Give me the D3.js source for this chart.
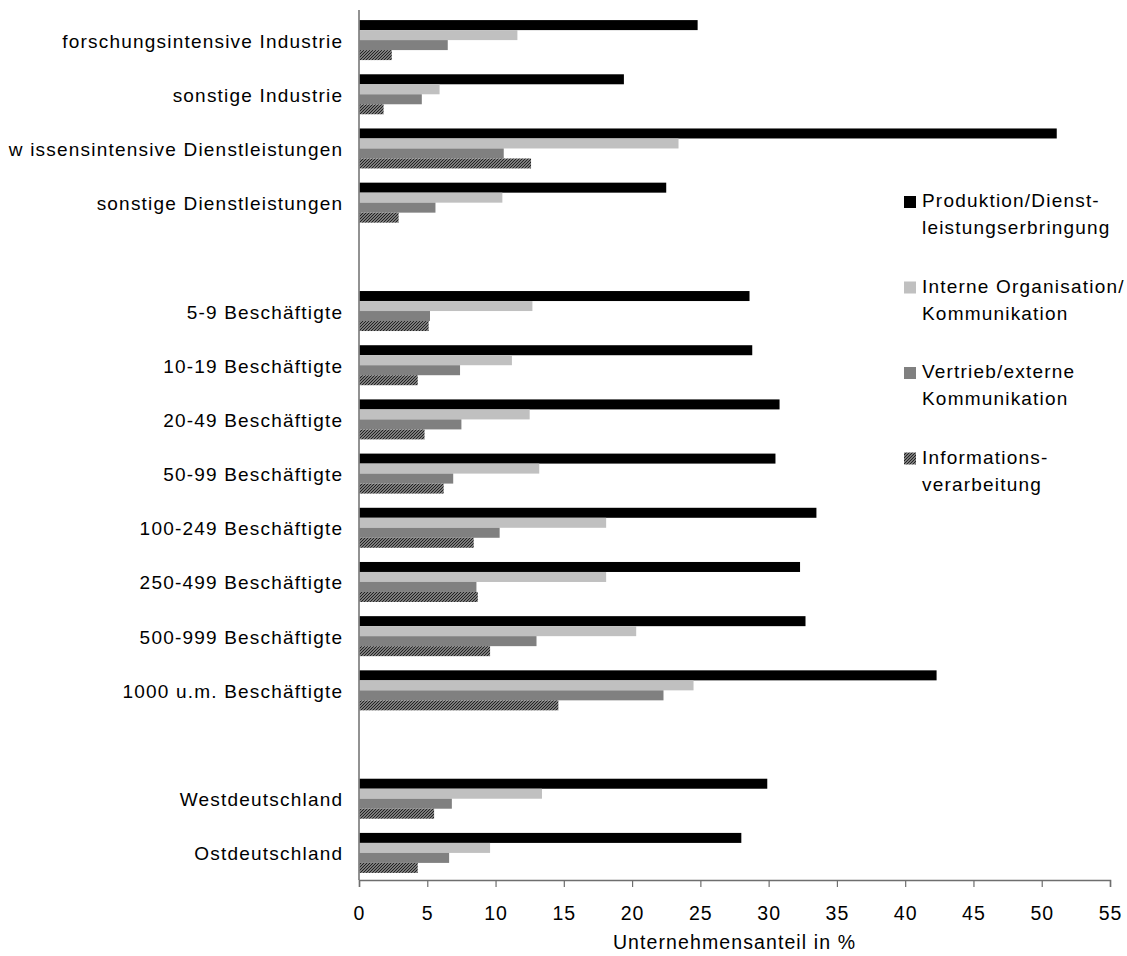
<!DOCTYPE html>
<html>
<head>
<meta charset="utf-8">
<script src="https://cdn.jsdelivr.net/npm/d3@7"></script>
<style>
  html, body { margin: 0; padding: 0; background: #fff; }
  svg text { font-family: "Liberation Sans", Arial, sans-serif; fill: #000; }
</style>
</head>
<body>
<svg id="chart" width="1127" height="956"></svg>
<script>
// Row labels, top to bottom; empty strings are spacer rows between the blocks
const categories = [
  "forschungsintensive Industrie",
  "sonstige Industrie",
  "w issensintensive Dienstleistungen",
  "sonstige Dienstleistungen",
  "",
  "5-9 Beschäftigte",
  "10-19 Beschäftigte",
  "20-49 Beschäftigte",
  "50-99 Beschäftigte",
  "100-249 Beschäftigte",
  "250-499 Beschäftigte",
  "500-999 Beschäftigte",
  "1000 u.m. Beschäftigte",
  "",
  "Westdeutschland",
  "Ostdeutschland"
];

// Company share in % per purpose
const produktion  = [24.8, 19.4, 51.1, 22.5, null, 28.6, 28.8, 30.8, 30.5, 33.5, 32.3, 32.7, 42.3, null, 29.9, 28.0];
const intern      = [11.6,  5.9, 23.4, 10.5, null, 12.7, 11.2, 12.5, 13.2, 18.1, 18.1, 20.3, 24.5, null, 13.4,  9.6];
const vertrieb    = [ 6.5,  4.6, 10.6,  5.6, null,  5.2,  7.4,  7.5,  6.9, 10.3,  8.6, 13.0, 22.3, null,  6.8,  6.6];
const information = [ 2.4,  1.8, 12.6,  2.9, null,  5.1,  4.3,  4.8,  6.2,  8.4,  8.7,  9.6, 14.6, null,  5.5,  4.3];

const seriesNames = [
  ["Produktion/Dienst-", "leistungserbringung"],
  ["Interne Organisation/", "Kommunikation"],
  ["Vertrieb/externe", "Kommunikation"],
  ["Informations-", "verarbeitung"]
];
const seriesValues = [produktion, intern, vertrieb, information];
const seriesFills = ["#000000", "#c0c0c0", "#808080", "url(#hatch)"];

const xTicks = [0, 5, 10, 15, 20, 25, 30, 35, 40, 45, 50, 55];
const xTitle = "Unternehmensanteil in %";

const svg = d3.select("#chart");

// Diagonal hatch for the information-processing series
const defs = svg.append("defs");
const pat = defs.append("pattern")
  .attr("id", "hatch")
  .attr("patternUnits", "userSpaceOnUse")
  .attr("width", 3).attr("height", 3);
pat.append("rect").attr("width", 3).attr("height", 3).attr("fill", "#d0d0d0");
pat.append("path")
  .attr("d", "M-1,1 L1,-1 M0,3 L3,0 M2,4 L4,2")
  .attr("stroke", "#222").attr("stroke-width", 1.4);

const plot = { left: 359, right: 1110, top: 13, bottom: 880 };

const x = d3.scaleLinear().domain([0, 55]).range([plot.left, plot.right]);
const y = d3.scaleBand().domain(d3.range(categories.length)).range([plot.top, plot.bottom]);
const inner = d3.scaleBand().domain(d3.range(seriesValues.length))
  .range([0, y.bandwidth()]).paddingOuter(0.71).paddingInner(0);

const fontSize = 19, spacing = 1.2;

// Bars
seriesValues.forEach((vals, s) => {
  svg.append("g")
    .selectAll("rect")
    .data(vals.map((v, i) => ({ v, i })).filter(d => d.v != null))
    .join("rect")
    .attr("x", x(0) + 0.5)
    .attr("y", d => y(d.i) + inner(s))
    .attr("width", d => x(d.v) - x(0) - 0.5)
    .attr("height", inner.bandwidth())
    .attr("fill", seriesFills[s]);
});

// Category axis (line and labels only)
svg.append("line")
  .attr("x1", x(0)).attr("x2", x(0))
  .attr("y1", 10).attr("y2", plot.bottom)
  .attr("stroke", "#6e6e6e").attr("stroke-width", 1.5);

svg.append("g")
  .selectAll("text")
  .data(categories.map((c, i) => ({ c, i })).filter(d => d.c !== ""))
  .join("text")
  .attr("x", 342 + spacing)
  .attr("y", d => y(d.i) + y.bandwidth() / 2 + 7.5)
  .attr("text-anchor", "end")
  .style("font-size", fontSize + "px")
  .style("letter-spacing", spacing + "px")
  .text(d => d.c);

// Value axis
const xAxis = svg.append("g")
  .attr("transform", `translate(0,${plot.bottom})`)
  .call(d3.axisBottom(x).tickValues(xTicks).tickSize(7).tickPadding(19).tickFormat(d3.format("d")));
xAxis.select(".domain").attr("stroke", "#6e6e6e").attr("stroke-width", 1.5);
xAxis.selectAll(".tick line").attr("stroke", "#6e6e6e").attr("stroke-width", 1.2);
xAxis.selectAll(".tick text")
  .attr("dy", "0.71em")
  .style("font-family", "'Liberation Sans', Arial, sans-serif")
  .style("font-size", "19.5px")
  .style("letter-spacing", "1px")
  .attr("fill", "#000");

svg.append("text")
  .attr("x", (plot.left + plot.right) / 2)
  .attr("y", 949)
  .attr("text-anchor", "middle")
  .style("font-size", "19.5px")
  .style("letter-spacing", "1.1px")
  .text(xTitle);

// Legend
const legend = svg.append("g");
seriesNames.forEach((lines, s) => {
  const baseY = 207 + s * 85.5;
  legend.append("rect")
    .attr("x", 904).attr("y", baseY - 11)
    .attr("width", 12).attr("height", 12)
    .attr("fill", seriesFills[s]);
  lines.forEach((t, k) => {
    legend.append("text")
      .attr("x", 922)
      .attr("y", baseY + k * 27)
      .style("font-size", fontSize + "px")
      .style("letter-spacing", spacing + "px")
      .text(t);
  });
});
</script>
</body>
</html>
